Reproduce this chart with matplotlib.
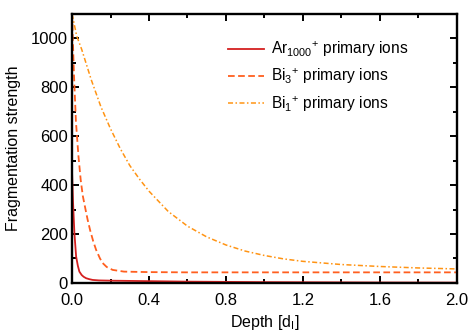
import matplotlib
matplotlib.use("Agg")
import matplotlib.pyplot as plt
from matplotlib.ticker import MultipleLocator

plt.rcParams['font.family'] = ['Liberation Sans', 'DejaVu Sans']
plt.rcParams['mathtext.fontset'] = 'custom'
plt.rcParams['mathtext.rm'] = 'Liberation Sans'
plt.rcParams['mathtext.it'] = 'Liberation Sans:italic'

# values
ar_depth = [0.0, 0.005, 0.012, 0.021, 0.03, 0.038, 0.05, 0.06, 0.073, 0.09, 0.107, 0.14,
            0.2, 0.3, 0.4, 0.6, 0.8, 1.0, 1.2, 1.6, 2.0]
ar_vals = [450, 330, 205, 108, 70, 46, 32, 25, 19, 15, 12, 10,
           9, 8, 7, 5, 4, 3, 2.5, 1.5, 1]

bi3_depth = [0.0, 0.005, 0.01, 0.02, 0.033, 0.045, 0.056, 0.07, 0.081, 0.094, 0.11, 0.125,
             0.145, 0.159, 0.18, 0.211, 0.27, 0.4, 0.6, 1.0, 1.5, 2.0]
bi3_vals = [1100, 970, 850, 660, 520, 420, 355, 300, 258, 215, 170, 135,
            100, 81, 65, 53, 46, 44, 43, 43, 43, 43]

bi1_depth = [0.0, 0.024, 0.05, 0.1, 0.15, 0.2, 0.25, 0.3, 0.35, 0.4, 0.5, 0.6, 0.7, 0.8,
             0.9, 1.0, 1.1, 1.2, 1.4, 1.6, 1.8, 2.0]
bi1_vals = [1100, 1010, 955, 830, 720, 630, 550, 480, 425, 375, 292, 232, 188, 155,
            130, 112, 98, 88, 75, 67, 61, 57]

fig = plt.figure(figsize=(4.68, 3.32), dpi=100)
ax = fig.add_axes([0.154, 0.148, 0.822, 0.81])

ax.plot(ar_depth, ar_vals, color='#d42020', lw=1.3, label=r'Ar$_{1000}$$^{+}$ primary ions')
ax.plot(bi3_depth, bi3_vals, color='#ff5f1f', lw=1.3, dashes=(3.7, 1.9),
        label=r'Bi$_{3}$$^{+}$ primary ions')
ax.plot(bi1_depth, bi1_vals, color='#ff9414', lw=1.1, dashes=(3.3, 1.6, 1.0, 1.6),
        label=r'Bi$_{1}$$^{+}$ primary ions')

ax.set_xlim(0, 2.0)
ax.set_ylim(0, 1100)
ax.xaxis.set_major_locator(MultipleLocator(0.4))
ax.xaxis.set_minor_locator(MultipleLocator(0.2))
ax.yaxis.set_major_locator(MultipleLocator(200))
ax.yaxis.set_minor_locator(MultipleLocator(100))
ax.tick_params(which='both', direction='in', top=True, right=True, labelsize=12, width=1.4)
ax.tick_params(which='major', length=5)
ax.tick_params(which='minor', length=3)
ax.tick_params(axis='x', pad=7)
ax.tick_params(axis='y', pad=3)
ax.xaxis.set_major_formatter(plt.FuncFormatter(lambda v, p: f'{v:.1f}'))
for s in ax.spines.values():
    s.set_linewidth(1.7)

ax.set_xlabel(r'Depth [d$_{\mathregular{I}}$]', fontsize=11.5, labelpad=4)
ax.set_ylabel('Fragmentation strength', fontsize=11.5, labelpad=7)

ax.legend(loc='upper left', bbox_to_anchor=(0.405, 0.905), borderpad=0, borderaxespad=0,
          frameon=False, fontsize=11.2, handlelength=2.3, handletextpad=0.5, labelspacing=0.5)

fig.savefig('out.png', dpi=100)
